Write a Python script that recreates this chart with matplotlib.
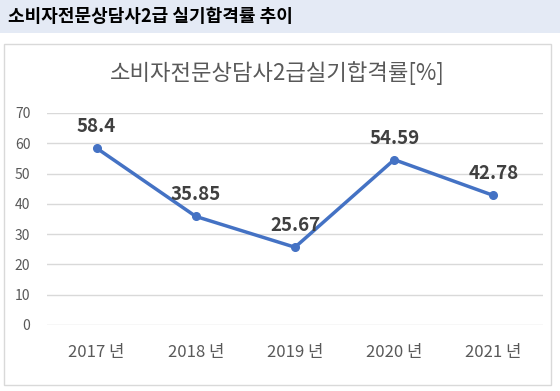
import matplotlib
matplotlib.use("Agg")
import matplotlib.pyplot as plt
from matplotlib.patches import Rectangle

plt.rcParams['font.family'] = ['Noto Sans CJK KR', 'DejaVu Sans']

categories = ["2017 년", "2018 년", "2019 년", "2020 년", "2021 년"]
values = [58.4, 35.85, 25.67, 54.59, 42.78]
value_labels = ["58.4", "35.85", "25.67", "54.59", "42.78"]
yticks = [0, 10, 20, 30, 40, 50, 60, 70]
header = "소비자전문상담사2급 실기합격률 추이"
chart_title = "소비자전문상담사2급실기합격률[%]"

W, H = 560, 391
fig = plt.figure(figsize=(W / 100, H / 100), dpi=100)
fig.patch.set_facecolor("white")

# header band
fig.patches.append(Rectangle((0, 1 - 33 / H), 1, 33 / H, transform=fig.transFigure,
                             facecolor="#e4eaf5", edgecolor="none", zorder=0))
fig.text(8 / W, 1 - 17 / H, header, fontsize=13, fontweight="bold", color="black",
         ha="left", va="center")

# chart box border
fig.patches.append(Rectangle((3.5 / W, 1 - 384.5 / H), 547 / W, 340.5 / H, transform=fig.transFigure,
                             facecolor="none", edgecolor="#d9d9d9", linewidth=1, zorder=0))

fig.text(277 / W, 1 - 73 / H, chart_title, fontsize=16, color="#595959", ha="center", va="center")

left, right = 47 / W, 543 / W
bottom, top = 1 - 325 / H, 1 - 113 / H
ax = fig.add_axes([left, bottom, right - left, top - bottom])
x = list(range(len(categories)))
ax.plot(x, values, color="#4472C4", linewidth=2.5, marker="o", markersize=5.5, zorder=3)
for xi, v, lab in zip(x, values, value_labels):
    ax.annotate(lab, (xi, v), xytext=(0, 15.5), textcoords="offset points", ha="center",
                va="center", fontsize=13.5, fontweight="bold", color="#404040")

ax.set_xlim(-0.5, len(categories) - 0.5)
ax.set_ylim(0, 70)
ax.set_yticks(yticks)
ax.set_yticklabels([str(t) for t in yticks])
ax.set_xticks(x)
ax.set_xticklabels(categories)
ax.tick_params(axis="y", length=0, pad=12, labelsize=10, labelcolor="#595959")
ax.tick_params(axis="x", length=0, pad=14, labelsize=12, labelcolor="#595959")
ax.grid(axis="y", color="#d9d9d9", linewidth=1)
ax.set_axisbelow(True)
for s in ax.spines.values():
    s.set_visible(False)
ax.set_facecolor("none")

fig.savefig("out.png", dpi=100)
